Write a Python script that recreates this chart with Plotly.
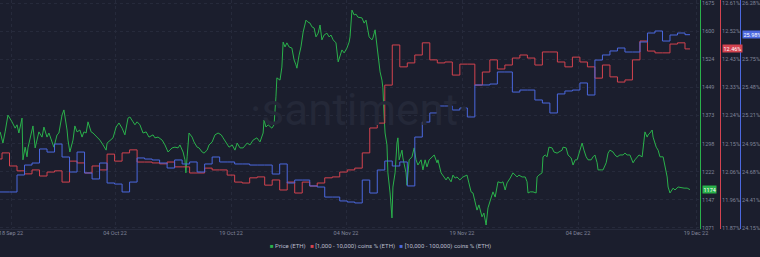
import pandas as pd
import plotly.graph_objects as go

# ---------------- data ----------------
START = pd.Timestamp("2022-09-18 00:00")

# hours since START for each price sample
price_hours = [
    -6, 3, 10, 19, 32, 42, 48, 54, 64, 67, 74, 80, 83, 90, 99, 106, 112, 118, 128, 134,
    144, 150, 160, 166, 176, 182, 192, 198, 208, 211, 217, 227, 233, 240, 249, 256, 262, 269, 275, 285,
    291, 304, 313, 323, 333, 336, 345, 355, 365, 374, 384, 393, 403, 409, 419, 425, 432, 441, 451, 461,
    470, 483, 489, 499, 512, 521, 531, 544, 553, 563, 569, 579, 585, 588, 592, 598, 608, 614, 624, 630,
    640, 646, 656, 662, 672, 681, 691, 701, 707, 716, 726, 736, 745, 752, 761, 771, 784,
    793, 803, 815, 825, 835, 838, 844, 851, 863, 870, 876, 879, 889, 895, 899, 905, 911, 918, 927,
    934, 940, 943, 950, 956, 963, 966, 972, 978, 985, 991, 998, 1004, 1011, 1017, 1023, 1030, 1039, 1046, 1052,
    1059, 1068, 1075, 1081, 1087, 1094, 1103, 1110, 1113, 1119, 1126, 1132, 1138, 1151, 1158, 1164, 1167, 1174, 1183, 1186,
    1193, 1199, 1202, 1209, 1215, 1218, 1222, 1225, 1231, 1234, 1241, 1247, 1250, 1257, 1263, 1266, 1270, 1279, 1282, 1292,
    1295, 1302, 1311, 1318, 1324, 1330, 1340, 1346, 1353, 1359, 1366, 1375, 1382, 1391, 1394, 1404, 1410, 1420, 1426, 1436,
    1442, 1449, 1455, 1464, 1474, 1487, 1493, 1500, 1506, 1513, 1519, 1525,
    1535, 1541, 1548, 1554, 1564, 1570, 1577, 1583, 1586, 1596, 1602, 1609, 1615, 1625, 1634, 1647, 1653, 1663, 1673, 1679,
    1682, 1689, 1698, 1708, 1711, 1717, 1727, 1730, 1737, 1743, 1749, 1759, 1765, 1775, 1781, 1791, 1794, 1804, 1810, 1820,
    1826, 1833, 1839, 1848, 1855, 1861, 1868, 1874, 1884, 1890, 1896, 1903, 1906, 1916, 1922, 1932, 1938, 1944, 1954, 1960,
    1967, 1976, 1986, 1992, 1999, 2008, 2018, 2024, 2031, 2037, 2047, 2050, 2056, 2063, 2066, 2072, 2079, 2082, 2092, 2098,
    2104, 2114, 2120, 2127, 2130, 2136, 2146, 2152, 2162, 2175, 2181, 2191, 2200,
]
price_eth = [
    1329, 1299, 1329, 1374, 1356, 1339, 1348, 1326, 1366, 1254, 1288, 1262, 1286, 1315, 1345, 1286, 1307, 1329, 1315, 1342,
    1315, 1326, 1302, 1288, 1321, 1326, 1374, 1388, 1334, 1307, 1275, 1307, 1345, 1329, 1334, 1315, 1329, 1326, 1356, 1329,
    1326, 1315, 1307, 1294, 1280, 1299, 1307, 1313, 1342, 1353, 1339, 1321, 1366, 1369, 1356, 1348, 1356, 1348, 1326, 1329,
    1315, 1321, 1313, 1315, 1307, 1294, 1275, 1286, 1288, 1286, 1294, 1275, 1254, 1219, 1262, 1326, 1315, 1302, 1288, 1286,
    1275, 1272, 1280, 1294, 1302, 1321, 1326, 1321, 1313, 1302, 1288, 1294, 1280, 1299, 1286, 1286, 1299,
    1294, 1307, 1313, 1302, 1326, 1361, 1342, 1348, 1339, 1348, 1423, 1474, 1468, 1503, 1570, 1557, 1568, 1557, 1554,
    1522, 1509, 1500, 1535, 1557, 1597, 1611, 1629, 1624, 1621, 1611, 1608, 1584, 1594, 1616, 1576, 1589, 1594, 1584, 1589,
    1576, 1568, 1517, 1535, 1549, 1541, 1554, 1570, 1584, 1656, 1643, 1645, 1637, 1635, 1621, 1629, 1613, 1584, 1576, 1581,
    1603, 1557, 1530, 1490, 1468, 1447, 1369, 1326, 1294, 1219, 1165, 1098, 1181, 1219, 1299, 1313, 1254, 1280, 1259, 1219,
    1186, 1254, 1262, 1286, 1254, 1240, 1254, 1227, 1254, 1235, 1254, 1262, 1267, 1246, 1254, 1219, 1213, 1200, 1208, 1195,
    1213, 1205, 1208, 1200, 1208, 1213, 1192, 1168, 1165, 1138, 1119, 1133,
    1101, 1111, 1079, 1125, 1152, 1168, 1154, 1181, 1195, 1192, 1195, 1173, 1192, 1205, 1219, 1208, 1213, 1208, 1208, 1195,
    1165, 1168, 1168, 1165, 1208, 1213, 1219, 1262, 1267, 1262, 1288, 1286, 1275, 1272, 1275, 1280, 1288, 1286, 1267, 1259,
    1240, 1254, 1254, 1280, 1299, 1280, 1262, 1254, 1254, 1262, 1267, 1246, 1227, 1227, 1227, 1246, 1272, 1280, 1275, 1267,
    1262, 1267, 1267, 1272, 1267, 1267, 1246, 1254, 1262, 1267, 1262, 1280, 1329, 1315, 1321, 1326, 1334, 1315, 1288, 1280,
    1262, 1262, 1235, 1208, 1181, 1165, 1178, 1173, 1181, 1178, 1178, 1178, 1174,
]

# daily holder shares, 17 Sep 2022 -> 18 Dec 2022
holder_start = "2022-09-17"
share_1k_10k = [
    12.097, 12.117, 12.074, 12.058, 12.048, 12.061, 12.041, 12.054, 12.058, 12.021, 12.090, 12.084, 12.051, 12.074,
    12.061, 12.113, 12.090, 12.117, 12.127, 12.087, 12.087, 12.084, 12.081, 12.087, 12.071, 12.071, 12.051, 12.051,
    12.067, 12.061, 12.061, 12.044, 12.021, 12.018, 12.035, 12.038, 12.011, 12.028, 11.995, 12.021, 11.985, 12.021,
    12.008, 12.018, 12.035,
    12.038, 12.054, 12.061, 12.067, 12.117, 12.199, 12.215, 12.340, 12.472, 12.400, 12.413, 12.439, 12.479, 12.423,
    12.413, 12.416, 12.373, 12.409, 12.409, 12.340, 12.383, 12.423, 12.393, 12.406, 12.429, 12.439, 12.429, 12.406,
    12.449, 12.449,
    12.416, 12.400, 12.432, 12.416, 12.400, 12.363, 12.406, 12.367, 12.350, 12.357, 12.423, 12.485, 12.452, 12.446,
    12.446, 12.475, 12.479, 12.459,
]
share_10k_100k = [
    24.491, 24.491, 24.491, 24.652, 24.746, 24.765, 24.898, 24.869, 24.945, 24.822, 24.680, 24.869, 24.671, 24.614,
    24.765, 24.576, 24.566, 24.491, 24.585, 24.813, 24.803, 24.794, 24.765, 24.718, 24.794, 24.756, 24.775, 24.680,
    24.756, 24.822, 24.775, 24.775, 24.756, 24.756, 24.746, 24.746, 24.746, 24.661, 24.756, 24.576, 24.604, 24.604,
    24.548, 24.538, 24.443,
    24.443, 24.406, 24.396, 24.387, 24.604, 24.481, 24.699, 24.784, 24.737, 24.775, 24.548, 25.011, 25.153, 25.239,
    25.305, 25.305, 25.267, 25.286, 25.201, 25.504, 25.504, 25.513, 25.627, 25.627, 25.437, 25.456, 25.456, 25.362,
    25.333, 25.239,
    25.419, 25.447, 25.456, 25.523, 25.409, 25.740, 25.788, 25.826, 25.854, 25.816, 25.816, 25.911, 25.996, 26.015,
    25.920, 25.977, 25.996, 25.980,
]

price_ticks = [1071, 1146.5, 1222, 1297.5, 1373, 1448.5, 1524, 1599.5, 1675]
price_tick_text = ["1071", "1147", "1222", "1298", "1373", "1449", "1524", "1600", "1675"]
red_ticks = [11.87, 11.9625, 12.055, 12.1475, 12.24, 12.3325, 12.425, 12.5175, 12.61]
red_tick_text = ["11.87%", "11.96%", "12.06%", "12.15%", "12.24%", "12.33%", "12.43%", "12.52%", "12.61%"]
blue_ticks = [24.15, 24.41625, 24.6825, 24.94875, 25.215, 25.48125, 25.7475, 26.28]
blue_tick_text = ["24.15%", "24.41%", "24.68%", "24.95%", "25.21%", "25.48%", "25.75%", "26.28%"]
date_tick_text = ["18 Sep 22", "04 Oct 22", "19 Oct 22", "04 Nov 22", "19 Nov 22", "04 Dec 22", "19 Dec 22"]

series_names = ["Price (ETH)", "[1,000 - 10,000) coins % (ETH)", "[10,000 - 100,000) coins % (ETH)"]

# ---------------- styling ----------------
BG = "#1b1e2d"
GREEN = "#2ab14b"
RED = "#d4434f"
BLUE = "#4b68df"
GRID = "#262a3b"
TXT = "#80859a"
FONT = "Roboto"

W, H = 760, 257
PLOT_R = 700  # px right edge of plot area

price_x = [START + pd.Timedelta(hours=h) for h in price_hours]
holder_x = list(pd.date_range(holder_start, periods=len(share_1k_10k), freq="D")) + [price_x[-1]]
red_y = share_1k_10k + [share_1k_10k[-1]]
blue_y = share_10k_100k + [share_10k_100k[-1]]

x0 = START - pd.Timedelta(hours=6.4)
x1 = pd.Timestamp("2022-12-20 00:00")
tick_frac = [11 / PLOT_R, 115 / PLOT_R, 231 / PLOT_R, 346 / PLOT_R, 462 / PLOT_R, 578 / PLOT_R, 696 / PLOT_R]
date_tickvals = [x0 + (x1 - x0) * f for f in tick_frac]

fig = go.Figure()
fig.add_trace(go.Scatter(x=holder_x, y=blue_y, yaxis="y3", mode="lines", line=dict(color=BLUE, width=1, shape="hv"),
                         name=series_names[2], showlegend=False))
fig.add_trace(go.Scatter(x=holder_x, y=red_y, yaxis="y2", mode="lines", line=dict(color=RED, width=1, shape="hv"),
                         name=series_names[1], showlegend=False))
fig.add_trace(go.Scatter(x=price_x, y=price_eth, yaxis="y", mode="lines", line=dict(color=GREEN, width=1),
                         name=series_names[0], showlegend=False))

ax_common = dict(zeroline=False, ticks="", side="right", showline=True, linewidth=1, automargin=False,
                 ticklabeloverflow="allow", tickfont=dict(size=5.5, color=TXT, family=FONT), fixedrange=True)

fig.update_layout(
    width=W, height=H,
    margin=dict(l=0, r=0, t=0, b=28, autoexpand=False),
    paper_bgcolor=BG, plot_bgcolor=BG,
    showlegend=False,
    font=dict(family=FONT, color=TXT),
    xaxis=dict(domain=[0, PLOT_R / W], range=[x0, x1], tickvals=date_tickvals, ticktext=date_tick_text,
               showgrid=True, gridcolor=GRID, griddash="dot", gridwidth=1, zeroline=False, ticks="",
               showline=True, linecolor=GRID, tickfont=dict(size=5.5, color=TXT, family=FONT),
               automargin=False, ticklabeloverflow="allow", ticklabelstandoff=-2),
    yaxis=dict(**ax_common, anchor="x", range=[1068.3, 1683.05], linecolor=GREEN,
               tickvals=price_ticks, ticktext=price_tick_text,
               showgrid=True, gridcolor=GRID, griddash="dot"),
    yaxis2=dict(**ax_common, overlaying="y", anchor="free", position=720 / W, range=[11.8667, 12.6199],
                linecolor=RED, tickvals=red_ticks, ticktext=red_tick_text, showgrid=False),
    yaxis3=dict(**ax_common, overlaying="y", anchor="free", position=740 / W, range=[24.1405, 26.3084],
                linecolor=BLUE, tickvals=blue_ticks, ticktext=blue_tick_text, showgrid=False),
)

# watermark
fig.add_annotation(text="\u00b7santiment\u00b7", xref="paper", yref="paper", x=360 / W, y=(229 - 110) / 229,
                   showarrow=False, font=dict(size=44, color="#242838", family=FONT), xanchor="center", yanchor="middle")

# last-value tags
fig.add_annotation(text=f"{price_eth[-1]:.0f}", xref="paper", yref="y", x=701.5 / W, y=price_eth[-1],
                   xanchor="left", yanchor="middle", showarrow=False, bgcolor=GREEN,
                   font=dict(size=5.5, color="#ffffff", family=FONT), borderpad=0.5)
fig.add_annotation(text=f"{share_1k_10k[-1]:.2f}%", xref="paper", yref="y2", x=721.5 / W, y=share_1k_10k[-1],
                   xanchor="left", yanchor="middle", showarrow=False, bgcolor=RED,
                   font=dict(size=5.5, color="#ffffff", family=FONT), borderpad=0.5)
fig.add_annotation(text=f"{share_10k_100k[-1]:.2f}%", xref="paper", yref="y3", x=741.5 / W, y=share_10k_100k[-1],
                   xanchor="left", yanchor="middle", showarrow=False, bgcolor=BLUE,
                   font=dict(size=5.5, color="#ffffff", family=FONT), borderpad=0.5)

# legend
legend_text = (f"<span style='color:{GREEN}'>\u25a0</span> {series_names[0]}   "
               f"<span style='color:{RED}'>\u25a0</span> {series_names[1]}   "
               f"<span style='color:{BLUE}'>\u25a0</span> {series_names[2]}")
fig.add_annotation(text=legend_text, xref="paper", yref="paper", x=380 / W, y=(11 - 28) / 229,
                   xanchor="center", yanchor="middle", showarrow=False,
                   font=dict(size=6, color="#b8bccb", family=FONT))

fig.write_html("out.html")
